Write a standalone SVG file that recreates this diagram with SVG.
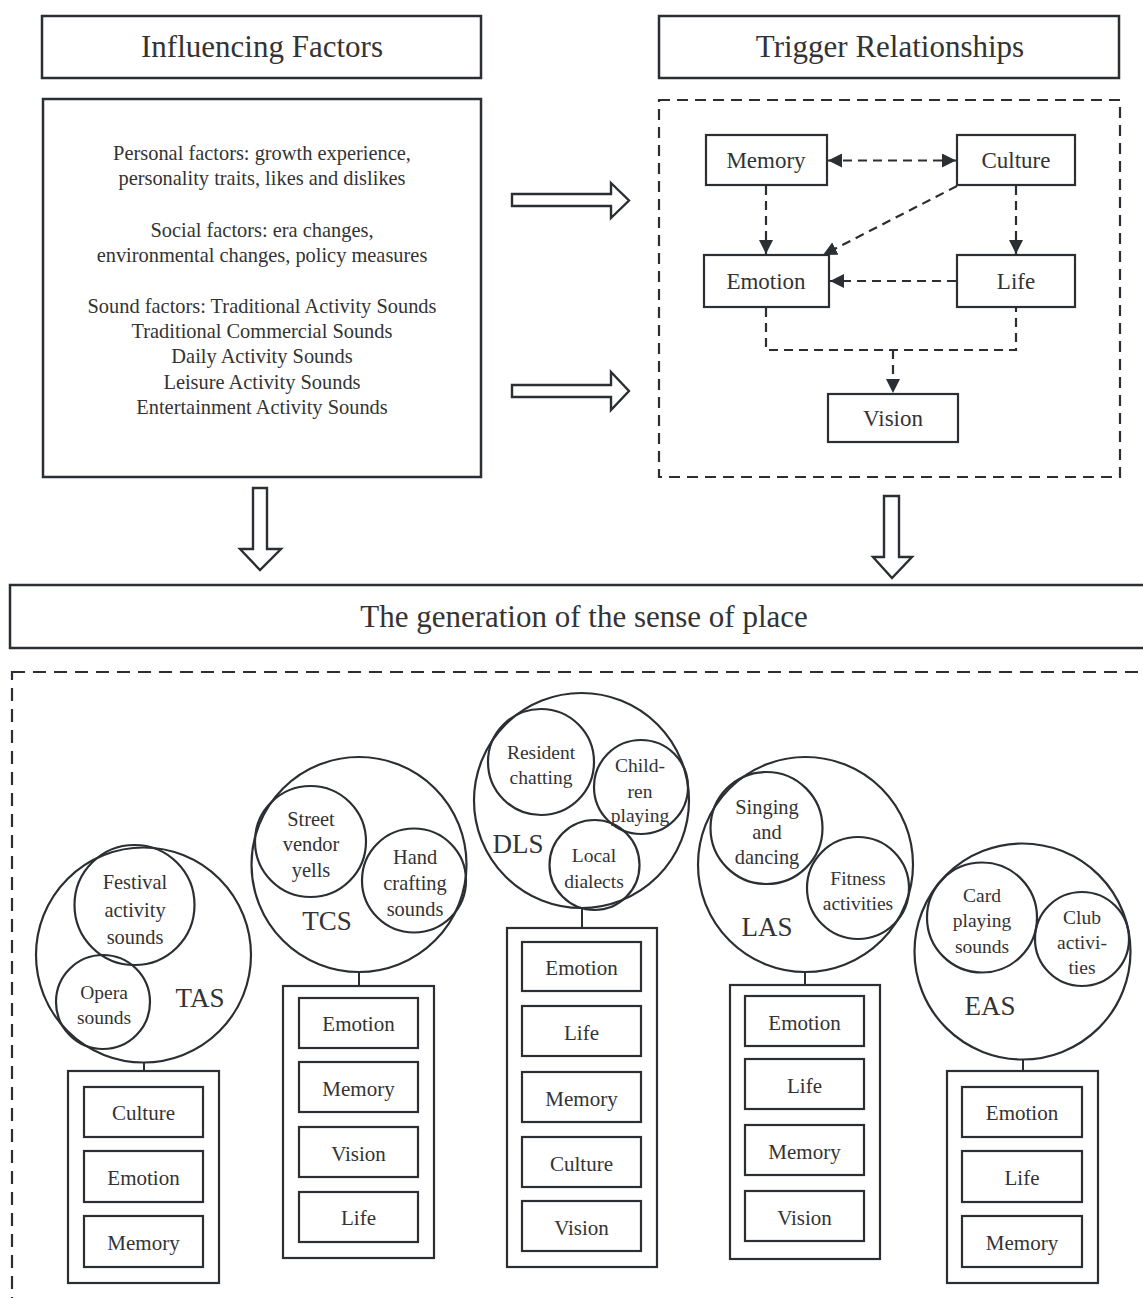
<svg xmlns="http://www.w3.org/2000/svg" width="1143" height="1298" viewBox="0 0 1143 1298">
<style>
text{font-family:"Liberation Serif","Times New Roman",serif;fill:#333;text-anchor:middle;dominant-baseline:central}
.box{fill:#fff;stroke:#2b2f33;stroke-width:2.5}
.ib{fill:#fff;stroke:#2b2f33;stroke-width:2.2}
.dash{fill:none;stroke:#2b2f33;stroke-width:2.2;stroke-dasharray:11 7}
.conn{fill:none;stroke:#2b2f33;stroke-width:2.2;stroke-dasharray:9 6}
.circ{fill:none;stroke:#2b2f33;stroke-width:2.2}
.hollow{fill:#fff;stroke:#2b2f33;stroke-width:2.4;stroke-linejoin:miter}
.line{stroke:#2b2f33;stroke-width:2}
.t30{font-size:31px}.t20{font-size:20.4px}.t23{font-size:23px}.t21{font-size:21px}.t27{font-size:27px}.t19{font-size:19.5px}
</style>
<defs>
<marker id="ah" viewBox="0 0 14 14" refX="14" refY="7" markerWidth="14" markerHeight="14" markerUnits="userSpaceOnUse" orient="auto-start-reverse">
<path d="M0,0 L14,7 L0,14 Z" fill="#2b2f33"/>
</marker>
</defs>
<rect width="1143" height="1298" fill="#fff"/>

<g id="influencing-title"><rect class="box" x="42" y="16" width="439" height="62"/><text class="t30" x="262" y="46">Influencing Factors</text></g>
<g id="trigger-title"><rect class="box" x="659" y="16" width="460" height="62"/><text class="t30" x="890" y="46">Trigger Relationships</text></g>

<g id="factors">
<rect class="box" x="43" y="99" width="438" height="378"/>
<text class="t20" x="262" y="153">Personal factors: growth experience,</text>
<text class="t20" x="262" y="178">personality traits, likes and dislikes</text>
<text class="t20" x="262" y="230">Social factors: era changes,</text>
<text class="t20" x="262" y="255">environmental changes, policy measures</text>
<text class="t20" x="262" y="306">Sound factors: Traditional Activity Sounds</text>
<text class="t20" x="262" y="331">Traditional Commercial Sounds</text>
<text class="t20" x="262" y="356">Daily Activity Sounds</text>
<text class="t20" x="262" y="382">Leisure Activity Sounds</text>
<text class="t20" x="262" y="407">Entertainment Activity Sounds</text>
</g>

<g id="trigger-frame"><rect class="dash" x="659" y="100" width="461" height="377"/></g>
<g id="t-memory"><rect class="ib" x="706" y="135" width="121" height="50"/><text class="t23" x="766" y="160">Memory</text></g>
<g id="t-culture"><rect class="ib" x="957" y="135" width="118" height="50"/><text class="t23" x="1016" y="160">Culture</text></g>
<g id="t-emotion"><rect class="ib" x="704" y="255" width="125" height="52"/><text class="t23" x="766" y="281">Emotion</text></g>
<g id="t-life"><rect class="ib" x="957" y="255" width="118" height="52"/><text class="t23" x="1016" y="281">Life</text></g>
<g id="t-vision"><rect class="ib" x="828" y="394" width="130" height="48"/><text class="t23" x="893" y="418">Vision</text></g>

<g id="place-title"><rect class="box" x="10" y="585" width="1150" height="63"/><text class="t30" x="584" y="616">The generation of the sense of place</text></g>
<g id="place-frame"><rect class="dash" x="12" y="672" width="1150" height="660" style="stroke-dasharray:13 8"/></g>

<g id="connectors">
<line class="conn" x1="828" y1="160.5" x2="956" y2="160.5" marker-start="url(#ah)" marker-end="url(#ah)"/>
<line class="conn" x1="766" y1="186" x2="766" y2="254" marker-end="url(#ah)"/>
<line class="conn" x1="957" y1="186" x2="823" y2="255" marker-end="url(#ah)"/>
<line class="conn" x1="1016" y1="186" x2="1016" y2="254" marker-end="url(#ah)"/>
<line class="conn" x1="956" y1="281" x2="830" y2="281" marker-end="url(#ah)"/>
<path class="conn" d="M766,308 V350 H1016 V308"/>
<line class="conn" x1="893" y1="350" x2="893" y2="393" marker-end="url(#ah)"/>
<path class="hollow" d="M512,194 H611 V183 L629,200.5 L611,218 V206 H512 Z"/>
<path class="hollow" d="M512,385 H611 V372 L629,391 L611,410 V397 H512 Z"/>
<path class="hollow" d="M253,488 H267 V549 H281 L260,570 L240,549 H253 Z"/>
<path class="hollow" d="M884,496 H899 V557 H912 L892,578 L873,557 H884 Z"/>
<line class="line" x1="144" y1="1062" x2="144" y2="1071"/>
<line class="line" x1="359" y1="972" x2="359" y2="986"/>
<line class="line" x1="582" y1="908" x2="582" y2="928"/>
<line class="line" x1="805" y1="972" x2="805" y2="985"/>
<line class="line" x1="1023" y1="1059" x2="1023" y2="1071"/>
</g>

<g id="tas">
<circle class="circ" cx="143.5" cy="955" r="107.5"/>
<circle class="circ" cx="134.5" cy="905" r="60"/>
<circle class="circ" cx="103" cy="1002" r="47"/>
<text class="t20" x="135" y="882">Festival</text>
<text class="t20" x="135" y="910">activity</text>
<text class="t20" x="135" y="937">sounds</text>
<text class="t19" x="104" y="992">Opera</text>
<text class="t19" x="104" y="1017">sounds</text>
<text class="t27" x="200" y="998">TAS</text>
</g>
<g id="tas-stack">
<rect class="ib" x="68" y="1071" width="151" height="212"/>
<rect class="ib" x="84" y="1087" width="119" height="50"/><text class="t21" x="143.5" y="1113">Culture</text>
<rect class="ib" x="84" y="1151" width="119" height="51"/><text class="t21" x="143.5" y="1178">Emotion</text>
<rect class="ib" x="84" y="1216" width="119" height="51"/><text class="t21" x="143.5" y="1243">Memory</text>
</g>

<g id="tcs">
<circle class="circ" cx="359" cy="864.5" r="107.5"/>
<circle class="circ" cx="310.5" cy="841.5" r="55.5"/>
<circle class="circ" cx="414" cy="880.5" r="52"/>
<text class="t20" x="311" y="819">Street</text>
<text class="t20" x="311" y="844">vendor</text>
<text class="t20" x="311" y="870">yells</text>
<text class="t20" x="415" y="857">Hand</text>
<text class="t20" x="415" y="883">crafting</text>
<text class="t20" x="415" y="909">sounds</text>
<text class="t27" x="327" y="921">TCS</text>
</g>
<g id="tcs-stack">
<rect class="ib" x="283" y="986" width="151" height="272"/>
<rect class="ib" x="299" y="998" width="119" height="50"/><text class="t21" x="358.5" y="1024">Emotion</text>
<rect class="ib" x="299" y="1062" width="119" height="50"/><text class="t21" x="358.5" y="1089">Memory</text>
<rect class="ib" x="299" y="1127" width="119" height="50"/><text class="t21" x="358.5" y="1154">Vision</text>
<rect class="ib" x="299" y="1192" width="119" height="50"/><text class="t21" x="358.5" y="1218">Life</text>
</g>

<g id="dls">
<circle class="circ" cx="581.5" cy="800.5" r="107.5"/>
<circle class="circ" cx="541" cy="762" r="53"/>
<circle class="circ" cx="641" cy="787" r="47"/>
<circle class="circ" cx="594.5" cy="865" r="45"/>
<text class="t19" x="541" y="752">Resident</text>
<text class="t19" x="541" y="777">chatting</text>
<text class="t19" x="640" y="765">Child-</text>
<text class="t19" x="640" y="791">ren</text>
<text class="t19" x="640" y="815">playing</text>
<text class="t19" x="594" y="855">Local</text>
<text class="t19" x="594" y="881">dialects</text>
<text class="t27" x="518" y="844">DLS</text>
</g>
<g id="dls-stack">
<rect class="ib" x="507" y="928" width="150" height="339"/>
<rect class="ib" x="522" y="942" width="119" height="49"/><text class="t21" x="581.5" y="968">Emotion</text>
<rect class="ib" x="522" y="1006" width="119" height="50"/><text class="t21" x="581.5" y="1033">Life</text>
<rect class="ib" x="522" y="1072" width="119" height="50"/><text class="t21" x="581.5" y="1099">Memory</text>
<rect class="ib" x="522" y="1137" width="119" height="50"/><text class="t21" x="581.5" y="1164">Culture</text>
<rect class="ib" x="522" y="1201" width="119" height="50"/><text class="t21" x="581.5" y="1228">Vision</text>
</g>

<g id="las">
<circle class="circ" cx="805.5" cy="864.5" r="107.5"/>
<circle class="circ" cx="766.5" cy="828" r="56"/>
<circle class="circ" cx="858" cy="888" r="51"/>
<text class="t20" x="767" y="807">Singing</text>
<text class="t20" x="767" y="832">and</text>
<text class="t20" x="767" y="857">dancing</text>
<text class="t19" x="858" y="878">Fitness</text>
<text class="t19" x="858" y="903">activities</text>
<text class="t27" x="767" y="927">LAS</text>
</g>
<g id="las-stack">
<rect class="ib" x="730" y="985" width="150" height="274"/>
<rect class="ib" x="745" y="996" width="119" height="50"/><text class="t21" x="804.5" y="1023">Emotion</text>
<rect class="ib" x="745" y="1059" width="119" height="50"/><text class="t21" x="804.5" y="1086">Life</text>
<rect class="ib" x="745" y="1125" width="119" height="50"/><text class="t21" x="804.5" y="1152">Memory</text>
<rect class="ib" x="745" y="1191" width="119" height="50"/><text class="t21" x="804.5" y="1218">Vision</text>
</g>

<g id="eas">
<circle class="circ" cx="1022.5" cy="951.5" r="108"/>
<circle class="circ" cx="982" cy="917.5" r="55"/>
<circle class="circ" cx="1082" cy="939" r="47"/>
<text class="t19" x="982" y="895">Card</text>
<text class="t19" x="982" y="920">playing</text>
<text class="t19" x="982" y="946">sounds</text>
<text class="t19" x="1082" y="917">Club</text>
<text class="t19" x="1082" y="942">activi-</text>
<text class="t19" x="1082" y="967">ties</text>
<text class="t27" x="990" y="1006">EAS</text>
</g>
<g id="eas-stack">
<rect class="ib" x="947" y="1071" width="151" height="212"/>
<rect class="ib" x="962" y="1087" width="120" height="50"/><text class="t21" x="1022" y="1113">Emotion</text>
<rect class="ib" x="962" y="1151" width="120" height="51"/><text class="t21" x="1022" y="1178">Life</text>
<rect class="ib" x="962" y="1216" width="120" height="51"/><text class="t21" x="1022" y="1243">Memory</text>
</g>
</svg>
